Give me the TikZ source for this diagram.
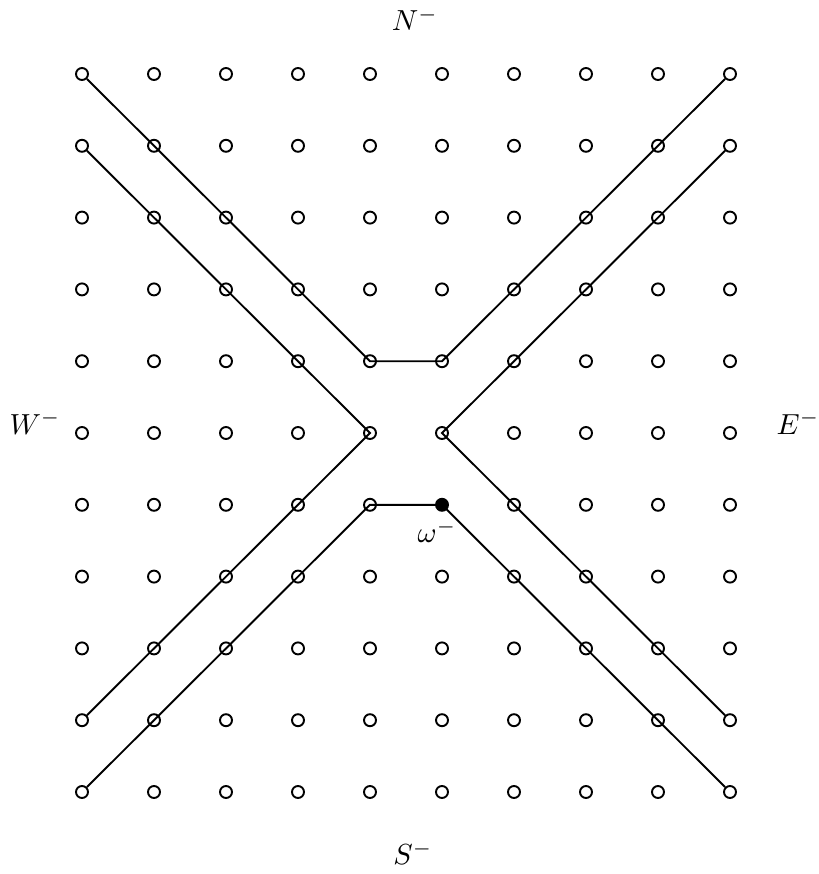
\documentclass[tikz,border=0pt]{standalone}
\begin{document}
\begin{tikzpicture}[x=1pt,y=-1pt,
  pt/.style={circle,draw,line width=1.9pt,minimum size=12pt,inner sep=0pt},
  ptfill/.style={pt,fill=black},
  lab/.style={inner sep=0pt,scale=2.9,transform shape},
  conn/.style={line width=1.9pt}]
\useasboundingbox (0,0) rectangle (818,874);
\foreach \i in {0,...,9}{
  \foreach \j in {0,...,10}{
    \pgfmathsetmacro{\xx}{82+72*\i}
    \pgfmathsetmacro{\yy}{74+71.8*\j}
    \ifnum\i=5 \ifnum\j=6
      \node[ptfill] (p-\i-\j) at (\xx,\yy) {};
    \else
      \node[pt] (p-\i-\j) at (\xx,\yy) {};
    \fi\else
      \node[pt] (p-\i-\j) at (\xx,\yy) {};
    \fi
  }
}
\draw[conn] (p-0-0) -- (p-4-4.center) -- (p-5-4.center) -- (p-9-0);
\draw[conn] (p-0-1) -- (p-4-5.center) -- (p-0-9);
\draw[conn] (p-9-1) -- (p-5-5.center) -- (p-9-9);
\draw[conn] (p-0-10) -- (p-4-6.center) -- (p-5-6.center) -- (p-9-10);
\node[lab] (N) at (415,19) {$N^-$};
\node[lab] (S) at (413,853) {$S^-$};
\node[lab,anchor=base] (W) at (35,434) {$W^-$};
\node[lab,anchor=base] (E) at (798,434) {$E^-$};
\node[lab] (om) at (437,531) {$\omega^-$};
\end{tikzpicture}
\end{document}
